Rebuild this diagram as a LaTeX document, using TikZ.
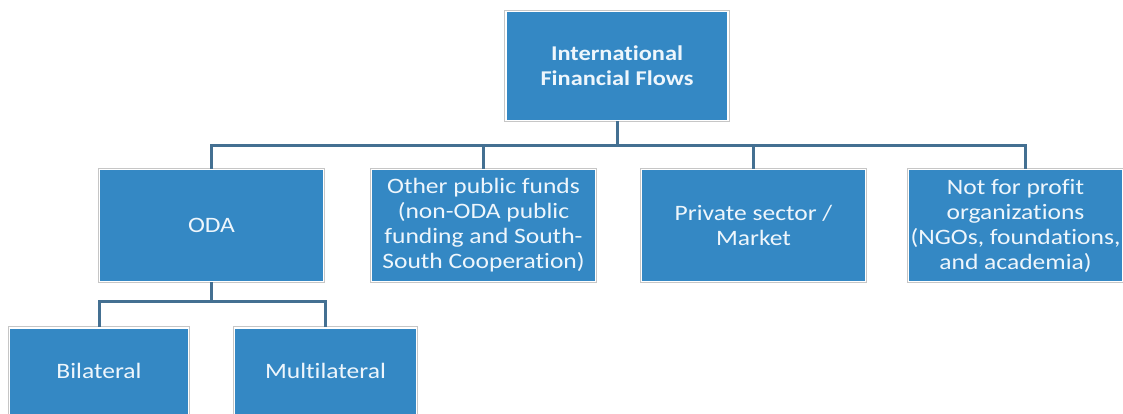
\documentclass[tikz,border=0pt]{standalone}
\usepackage{fontspec}
\setmainfont{Carlito}[FakeStretch=1.16, Ligatures=NoCommon]
\usepackage{tikz}
\definecolor{boxblue}{RGB}{52,136,196}
\definecolor{linkblue}{RGB}{68,112,146}
\definecolor{boxtext}{RGB}{238,246,252}
\tikzset{
  flowbox/.style={rectangle, fill=boxblue, draw=white, line width=1.6pt,
    preaction={draw=gray!45, line width=3.4pt},
    text=boxtext, align=center, inner sep=2pt,
    font=\fontsize{22}{25}\selectfont},
  link/.style={draw=linkblue, line width=3pt}
}
\begin{document}
\begin{tikzpicture}[x=1pt,y=-1pt]
\useasboundingbox (0,0) rectangle (1123,413);
\clip (0,0) rectangle (1123,413);
% top of the tree
\node[flowbox, minimum width=222pt, minimum height=109pt, font=\fontsize{21}{25}\selectfont\bfseries]
  (flows) at (617,66) {International\\Financial Flows};
% second row
\node[flowbox, minimum width=224pt, minimum height=112pt] (oda) at (211.5,225.5) {ODA};
\node[flowbox, minimum width=224pt, minimum height=112pt] (other) at (483.5,225.5)
  {Other public funds\\(non-ODA public\\funding and South-\\South Cooperation)};
\node[flowbox, minimum width=224pt, minimum height=112pt] (private) at (753.5,225.5)
  {Private sector /\\Market};
\node[flowbox, minimum width=208pt, minimum height=112pt] (nonprofit) at (1015.5,225.5)
  {Not for profit\\organizations\\(NGOs, foundations,\\and academia)};
% third row
\node[flowbox, minimum width=179pt, minimum height=112pt] (bilat) at (99,384) {};
\node[flowbox, minimum width=182pt, minimum height=112pt] (multilat) at (325.5,384) {};
\node[text=boxtext, font=\fontsize{22}{25}\selectfont] at (99,371) {Bilateral};
\node[text=boxtext, font=\fontsize{22}{25}\selectfont] at (325.5,371) {Multilateral};
% connectors
\draw[link] (flows.south) -- ++(0,24) -| (oda.north);
\draw[link] (flows.south) -- ++(0,24) -| (other.north);
\draw[link] (flows.south) -- ++(0,24) -| (private.north);
\draw[link] (flows.south) -- ++(0,24) -| ([xshift=9.5pt]nonprofit.north);
\draw[link] (oda.south) -- ++(0,19) -| (bilat.north);
\draw[link] (oda.south) -- ++(0,19) -| (multilat.north);
\end{tikzpicture}
\end{document}
